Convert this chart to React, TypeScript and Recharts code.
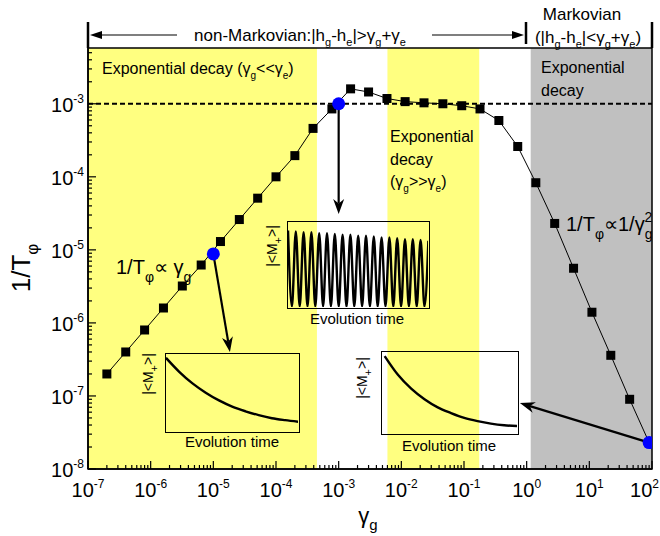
import React from 'react';
import {
  ComposedChart,
  Scatter,
  XAxis,
  YAxis,
  ReferenceArea,
  ReferenceLine,
  LineChart,
  Line,
} from 'recharts';

const FONT = 'Arial, "Liberation Sans", Helvetica, sans-serif';

// 1/T_phi versus gamma_g (black squares, joined)
const gammaG = [
  2e-7, 4e-7, 8e-7, 1.6e-6, 3.2e-6, 6.4e-6, 1.3e-5, 2.6e-5, 5.1e-5, 1.0e-4, 2.0e-4, 3.9e-4,
  7.8e-4, 1.55e-3, 3.0e-3, 5.9e-3, 1.15e-2, 2.3e-2, 4.6e-2, 9.2e-2, 0.18, 0.36, 0.72, 1.4,
  2.8, 5.6, 11, 22, 44, 90,
];
const rate = [
  2e-7, 4e-7, 8e-7, 1.6e-6, 3.2e-6, 6.2e-6, 1.3e-5, 2.6e-5, 5.1e-5, 1.0e-4, 1.95e-4, 4.6e-4,
  8.5e-4, 1.6e-3, 1.45e-3, 1.18e-3, 1.07e-3, 1.03e-3, 1.0e-3, 9.4e-4, 8.5e-4, 5.9e-4, 2.6e-4,
  8.3e-5, 2.3e-5, 5.6e-6, 1.4e-6, 3.6e-7, 9.0e-8, 2.3e-8,
];

// highlighted points (blue)
const blueG = [1e-5, 1e-3, 90];
const blueRate = [8.8e-6, 1e-3, 2.3e-8];

// shaded regimes
const yellowFrom = [1e-7, 6.0e-3];
const yellowTo = [4.5e-4, 0.175];
const greyFrom = 1.16;
const greyTo = 100;

const xDomain = [1e-7, 100];
const yDomain = [1e-8, 5.8e-3];
const xMajor = [1e-7, 1e-6, 1e-5, 1e-4, 1e-3, 1e-2, 1e-1, 1, 10, 100];
const yMajor = [1e-8, 1e-7, 1e-6, 1e-5, 1e-4, 1e-3];
const mantissas = [2, 3, 4, 5, 6, 7, 8, 9];

// insets: |<M+>| vs evolution time (normalised to box)
const decayLeft = [0.95, 0.77, 0.62, 0.5, 0.4, 0.32, 0.26, 0.21, 0.17, 0.145, 0.125];
const decayRight = [0.95, 0.72, 0.55, 0.42, 0.32, 0.25, 0.19, 0.15, 0.12, 0.1, 0.09];
const oscillation = [
  0.9, 0.01, 0.89, 0.01, 0.88, 0.01, 0.88, 0.01, 0.87, 0.01, 0.87, 0.01, 0.86, 0.01, 0.85,
  0.01, 0.85, 0.01, 0.84, 0.01, 0.84, 0.01, 0.83, 0.01, 0.82, 0.01, 0.82, 0.01, 0.81, 0.01,
  0.8, 0.01, 0.8, 0.01, 0.79, 0.01, 0.78,
];

const minorOf = (majors: number[], top: number) => {
  const out: number[] = [];
  majors.forEach((m) => mantissas.forEach((k) => { if (m * k < top) out.push(m * k); }));
  return out;
};
const xMinor = minorOf(xMajor, 100);
const yMinor = minorOf([...yMajor], 5.8e-3);

const isMajor = (v: number) => Math.abs(Math.log10(v) - Math.round(Math.log10(v))) < 1e-6;

const points = gammaG.map((g, i) => ({ g, r: rate[i] }));
const bluePoints = blueG.map((g, i) => ({ g, r: blueRate[i] }));

function XTick({ x, y, payload }: any) {
  const v = payload.value;
  const major = isMajor(v);
  const last = v >= xDomain[1];
  return (
    <g>
      <line x1={x} y1={y} x2={x} y2={y - (major ? 8 : 4)} stroke="#000" strokeWidth={1.2} />
      {major && (
        <text x={last ? 659 : x} y={y + 28} textAnchor={last ? 'end' : 'middle'} fontSize={20} fontFamily={FONT} fill="#000">
          10<tspan dy={-9} fontSize={12}>{Math.round(Math.log10(v))}</tspan>
        </text>
      )}
    </g>
  );
}

function YTick({ x, y, payload }: any) {
  const v = payload.value;
  const major = isMajor(v);
  return (
    <g>
      <line x1={x} y1={y} x2={x + (major ? 8 : 4)} y2={y} stroke="#000" strokeWidth={1.2} />
      {major && (
        <text x={x - 4} y={y + 8} textAnchor="end" fontSize={20} fontFamily={FONT} fill="#000">
          10<tspan dy={-9} fontSize={12}>{Math.round(Math.log10(v))}</tspan>
        </text>
      )}
    </g>
  );
}

const Square = (p: any) => <rect x={p.cx - 4.5} y={p.cy - 4.5} width={9} height={9} fill="#000" />;
const BlueDot = (p: any) => <circle cx={p.cx} cy={p.cy} r={6.5} fill="#0000ff" />;

function Arrow(p: any) {
  const { x1, y1, x2, y2 } = p;
  const a = Math.atan2(y2 - y1, x2 - x1);
  const L = 15;
  const W = 5.5;
  const bx = x2 - L * Math.cos(a);
  const by = y2 - L * Math.sin(a);
  const nx = x2 - 0.7 * L * Math.cos(a);
  const ny = y2 - 0.7 * L * Math.sin(a);
  const px = -Math.sin(a) * W;
  const py = Math.cos(a) * W;
  return (
    <g>
      <line x1={x1} y1={y1} x2={nx} y2={ny} stroke="#000" strokeWidth={2.2} />
      <polygon points={`${x2},${y2} ${bx + px},${by + py} ${nx},${ny} ${bx - px},${by - py}`} fill="#000" />
    </g>
  );
}

const InXTick = ({ x, y }: any) => <line x1={x} y1={y} x2={x} y2={y - 3} stroke="#000" strokeWidth={1} />;
const InYTick = ({ x, y }: any) => <line x1={x} y1={y} x2={x + 3} y2={y} stroke="#000" strokeWidth={1} />;

function Inset({ left, top, width, height, values, xStart, xTicks, yTicks }: any) {
  const data = values.map((v: number, i: number) => ({ t: i, v }));
  const n = values.length - 1;
  return (
    <div
      style={{
        position: 'absolute', left, top, width, height,
        border: '1.3px solid #000', boxSizing: 'border-box',
      }}
    >
      <LineChart width={width - 2.6} height={height - 2.6} data={data} margin={{ top: 0, right: 0, bottom: 0, left: 0 }}>
        <XAxis dataKey="t" type="number" domain={[xStart, n]} height={0} axisLine={false} tickLine={false}
          ticks={xTicks.map((f: number) => xStart + f * (n - xStart))} tick={<InXTick />} interval={0} tickSize={0} tickMargin={0} />
        <YAxis type="number" domain={[0, 1]} width={0} axisLine={false} tickLine={false}
          ticks={yTicks} tick={<InYTick />} interval={0} tickSize={0} tickMargin={0} />
        <Line dataKey="v" type="monotone" stroke="#000" strokeWidth={2.4} dot={false} isAnimationActive={false} />
      </LineChart>
    </div>
  );
}

const sub = (s: string, fs = 11, d = 5) => [
  <tspan key="a" dy={d} fontSize={fs}>{s}</tspan>,
];

export default function App() {
  return (
    <div style={{ position: 'absolute', left: 0, top: 0, width: 660, height: 536, background: '#fff', fontFamily: FONT }}>
      <ComposedChart width={660} height={536} margin={{ top: 48, right: 8, bottom: 27, left: 28 }}>
        {yellowFrom.map((f, i) => (
          <ReferenceArea key={i} x1={f} x2={yellowTo[i]} y1={yDomain[0]} y2={yDomain[1]} fill="#ffff80" fillOpacity={1} stroke="none" />
        ))}
        <ReferenceArea x1={greyFrom} x2={greyTo} y1={yDomain[0]} y2={yDomain[1]} fill="#c0c0c0" fillOpacity={1} stroke="none" />
        <XAxis dataKey="g" type="number" scale="log" domain={xDomain} allowDataOverflow height={40}
          ticks={[...xMajor, ...xMinor]} interval={0} tick={<XTick />} tickLine={false} tickSize={0} tickMargin={0}
          axisLine={{ stroke: '#000', strokeWidth: 1.5 }} />
        <YAxis dataKey="r" type="number" scale="log" domain={yDomain} allowDataOverflow width={60}
          ticks={[...yMajor, ...yMinor]} interval={0} tick={<YTick />} tickLine={false} tickSize={0} tickMargin={0}
          axisLine={{ stroke: '#000', strokeWidth: 1.5 }} />
        <ReferenceLine y={1e-3} stroke="#000" strokeWidth={2} strokeDasharray="5 3" />
        <Scatter data={points} shape={<Square />} line={{ stroke: '#000', strokeWidth: 1 }} isAnimationActive={false} />
        <ReferenceLine segment={[{ x: 1e-5, y: 8.8e-6 }, { x: 1.84e-5, y: 4.0e-7 }]} shape={<Arrow />} />
        <ReferenceLine segment={[{ x: 1e-3, y: 1e-3 }, { x: 1e-3, y: 3.1e-5 }]} shape={<Arrow />} />
        <ReferenceLine segment={[{ x: 90, y: 2.3e-8 }, { x: 0.78, y: 8.0e-8 }]} shape={<Arrow />} />
        <Scatter data={bluePoints} shape={<BlueDot />} isAnimationActive={false} />
        <ReferenceArea x1={xDomain[0]} x2={xDomain[1]} y1={yDomain[0]} y2={yDomain[1]} fill="none" stroke="#000" strokeWidth={1.5} />
      </ComposedChart>

      <Inset left={165} top={353} width={135} height={80} values={decayLeft} xStart={0}
        xTicks={[0.25, 0.5, 0.75]} yTicks={[0.92, 0.46, 0.08]} />
      <Inset left={287} top={221} width={143} height={88} values={oscillation} xStart={0}
        xTicks={[]} yTicks={[]} />
      <Inset left={381} top={351} width={138} height={84} values={decayRight} xStart={-0.2}
        xTicks={[0.26, 0.5, 0.75]} yTicks={[0.85, 0.46, 0.06]} />

      <svg width={660} height={536} style={{ position: 'absolute', left: 0, top: 0, pointerEvents: 'none' }}
        fontFamily={FONT} fill="#000">
        {/* header */}
        <line x1={88} y1={22} x2={88} y2={48} stroke="#000" strokeWidth={2.5} />
        <line x1={526} y1={22} x2={526} y2={44} stroke="#000" strokeWidth={2.5} />
        <line x1={652} y1={22} x2={652} y2={48} stroke="#000" strokeWidth={2.5} />
        <line x1={98} y1={35} x2={177} y2={35} stroke="#000" strokeWidth={1.2} />
        <polygon points="90,35 102,31 102,39" fill="#000" />
        <line x1={432} y1={35} x2={514} y2={35} stroke="#000" strokeWidth={1.2} />
        <polygon points="524,35 512,31 512,39" fill="#000" />
        <text x={300} y={41} textAnchor="middle" fontSize={17}>
          non-Markovian:|h{sub('g')}<tspan dy={-5}>-h</tspan>{sub('e')}<tspan dy={-5}>|&gt;γ</tspan>{sub('g')}
          <tspan dy={-5}>+γ</tspan>{sub('e')}
        </text>
        <text x={582} y={20} textAnchor="middle" fontSize={17}>Markovian</text>
        <text x={588} y={43} textAnchor="middle" fontSize={17}>
          (|h{sub('g')}<tspan dy={-5}>-h</tspan>{sub('e')}<tspan dy={-5}>|&lt;γ</tspan>{sub('g')}
          <tspan dy={-5}>+γ</tspan>{sub('e')}<tspan dy={-5}>)</tspan>
        </text>

        {/* annotations */}
        <text x={102} y={74} fontSize={16}>
          Exponential decay  (γ{sub('g', 10)}<tspan dy={-5}>&lt;&lt;γ</tspan>{sub('e', 10)}<tspan dy={-5}>)</tspan>
        </text>
        <text x={390} y={142} fontSize={16}>Exponential</text>
        <text x={390} y={165} fontSize={16}>decay</text>
        <text x={390} y={187} fontSize={16}>
          (γ{sub('g', 10)}<tspan dy={-5}>&gt;&gt;γ</tspan>{sub('e', 10)}<tspan dy={-5}>)</tspan>
        </text>
        <text x={541} y={73} fontSize={16}>Exponential</text>
        <text x={541} y={96} fontSize={16}>decay</text>
        <text x={116} y={274} fontSize={20}>
          1/T<tspan dy={8} fontSize={14}>φ</tspan><tspan dy={-8}>∝ γ</tspan><tspan dy={8} fontSize={14}>g</tspan>
        </text>
        <text x={566} y={231} fontSize={20}>
          1/T<tspan dy={8} fontSize={14}>φ</tspan><tspan dy={-8}>∝1/γ</tspan><tspan dy={8} fontSize={14}>g</tspan>
          <tspan dx={-8} dy={-17} fontSize={14}>2</tspan>
        </text>

        {/* inset labels */}
        <text transform="translate(153,374) rotate(-90)" textAnchor="middle" fontSize={14}>
          |&lt;M<tspan dy={5} fontSize={11}>+</tspan><tspan dy={-5}>&gt;|</tspan>
        </text>
        <text x={232} y={447} textAnchor="middle" fontSize={15}>Evolution time</text>
        <text transform="translate(277,246) rotate(-90)" textAnchor="middle" fontSize={14}>
          |&lt;M<tspan dy={5} fontSize={11}>+</tspan><tspan dy={-5}>&gt;|</tspan>
        </text>
        <text x={357} y={324} textAnchor="middle" fontSize={15}>Evolution time</text>
        <text transform="translate(367,378) rotate(-90)" textAnchor="middle" fontSize={14}>
          |&lt;M<tspan dy={5} fontSize={11}>+</tspan><tspan dy={-5}>&gt;|</tspan>
        </text>
        <text x={449} y={451} textAnchor="middle" fontSize={15}>Evolution time</text>

        {/* axis titles */}
        <text transform="translate(30,268) rotate(-90)" textAnchor="middle" fontSize={26}>
          1/T<tspan dy={8} fontSize={17}>φ</tspan>
        </text>
        <text x={368} y={523} textAnchor="middle" fontSize={22}>
          γ<tspan dy={7} fontSize={15}>g</tspan>
        </text>
      </svg>
    </div>
  );
}
